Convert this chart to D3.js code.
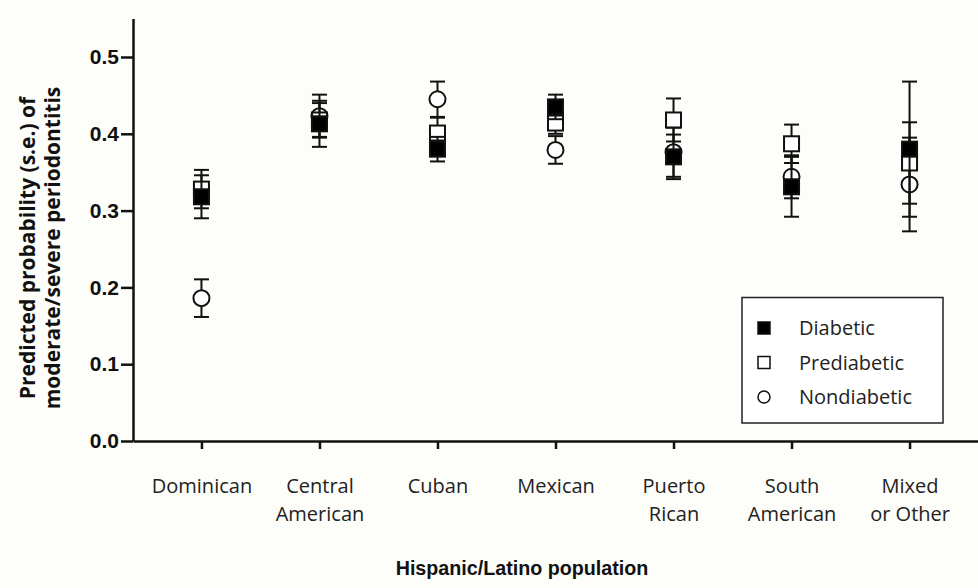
<!DOCTYPE html>
<html>
<head>
<meta charset="utf-8">
<script src="https://cdn.jsdelivr.net/npm/d3@7"></script>
<style>
  html, body { margin: 0; padding: 0; background: #fdfdf9; }
  svg { display: block; }
</style>
</head>
<body>
<svg id="chart" width="978" height="588"></svg>
<script>
// Hispanic/Latino background groups (line breaks split the axis labels)
const categories = ["Dominican", "Central\nAmerican", "Cuban", "Mexican", "Puerto\nRican", "South\nAmerican", "Mixed\nor Other"];

// Predicted probability of moderate/severe periodontitis and its standard error
const diabetic      = [0.318, 0.413, 0.380, 0.435, 0.370, 0.331, 0.380];
const diabeticSE    = [0.028, 0.030, 0.016, 0.016, 0.029, 0.039, 0.088];
const prediabetic   = [0.328, 0.418, 0.401, 0.414, 0.418, 0.387, 0.362];
const prediabeticSE = [0.025, 0.022, 0.020, 0.014, 0.028, 0.025, 0.053];
const nondiabetic   = [0.186, 0.423, 0.445, 0.379, 0.376, 0.344, 0.334];
const nondiabeticSE = [0.0245, 0.028, 0.023, 0.018, 0.032, 0.028, 0.061];

const yTicks = [0, 0.1, 0.2, 0.3, 0.4, 0.5];
const legendLabels = ["Diabetic", "Prediabetic", "Nondiabetic"];

const svg = d3.select("#chart");
const plotLeft = 133, plotRight = 978, plotBottom = 441, plotTop = 18.6;

const x = d3.scalePoint().domain(categories).range([plotLeft, plotRight]).padding(0.58);
const y = d3.scaleLinear().domain([0, 0.55]).range([plotBottom, plotTop]);

// Y axis
const yAxis = svg.append("g")
  .attr("transform", `translate(${plotLeft},0)`)
  .call(d3.axisLeft(y).tickValues(yTicks).tickFormat(d3.format(".1f")).tickSize(12).tickSizeOuter(0).tickPadding(2));
yAxis.select(".domain").attr("stroke", "#111").attr("stroke-width", 2.5);
yAxis.selectAll(".tick line").attr("stroke", "#111").attr("stroke-width", 2.5);
yAxis.selectAll(".tick text")
  .attr("fill", "#111")
  .style("font-family", "'Liberation Sans', Arial, sans-serif")
  .style("font-weight", "bold")
  .style("font-size", "21px");

// X axis
const xAxis = svg.append("g")
  .attr("transform", `translate(0,${plotBottom})`)
  .call(d3.axisBottom(x).tickSize(8).tickSizeOuter(0).tickFormat(""));
xAxis.select(".domain").attr("stroke", "#111").attr("stroke-width", 2.5);
xAxis.selectAll(".tick line").attr("stroke", "#111").attr("stroke-width", 2.5);

// Two-line category labels
const labelFont = "'Open Sans', 'Noto Sans', sans-serif";
xAxis.selectAll(".tick").each(function(d) {
  const lines = d.split("\n");
  const t = d3.select(this).append("text")
    .attr("fill", "#222")
    .attr("text-anchor", "middle")
    .style("font-family", labelFont)
    .style("font-size", "20px");
  lines.forEach((ln, i) => {
    t.append("tspan").attr("x", 0).attr("y", 52 + i * 28).text(ln);
  });
});

// Axis titles
svg.append("text")
  .attr("x", 522).attr("y", 575)
  .attr("text-anchor", "middle")
  .attr("fill", "#111")
  .style("font-family", "'Liberation Sans', Arial, sans-serif")
  .style("font-weight", "bold")
  .style("font-size", "19.7px")
  .text("Hispanic/Latino population");

const yTitle = svg.append("text")
  .attr("transform", "translate(0,248) rotate(-90)")
  .attr("text-anchor", "middle")
  .attr("fill", "#111")
  .style("font-family", labelFont)
  .style("font-weight", "bold")
  .style("font-size", "21px");
yTitle.append("tspan").attr("x", 0).attr("y", 35).text("Predicted  probability (s.e.) of");
yTitle.append("tspan").attr("x", 0).attr("y", 60).text("moderate/severe periodontitis");

// Series, drawn back to front
const series = [
  { name: "Nondiabetic", values: nondiabetic, se: nondiabeticSE, shape: "circle", fill: "#fff" },
  { name: "Prediabetic", values: prediabetic, se: prediabeticSE, shape: "square", fill: "#fff" },
  { name: "Diabetic",    values: diabetic,    se: diabeticSE,    shape: "square", fill: "#000" }
];

const capW = 15, sq = 15;

function drawMarker(g, shape, fill, cx, cy, size) {
  if (shape === "circle") {
    g.append("circle").attr("cx", cx).attr("cy", cy).attr("r", size / 2)
      .attr("fill", fill).attr("stroke", "#111").attr("stroke-width", 2);
  } else {
    g.append("rect").attr("x", cx - size / 2).attr("y", cy - size / 2)
      .attr("width", size).attr("height", size)
      .attr("fill", fill).attr("stroke", "#111").attr("stroke-width", 2);
  }
}

series.forEach(s => {
  const g = svg.append("g");
  categories.forEach((c, i) => {
    const cx = x(c);
    const v = s.values[i], e = s.se[i];
    const y1 = y(v + e), y2 = y(v - e);
    g.append("line").attr("x1", cx).attr("x2", cx).attr("y1", y1).attr("y2", y2)
      .attr("stroke", "#111").attr("stroke-width", 2);
    [y1, y2].forEach(yy => {
      g.append("line").attr("x1", cx - capW / 2).attr("x2", cx + capW / 2)
        .attr("y1", yy).attr("y2", yy)
        .attr("stroke", "#111").attr("stroke-width", 2);
    });
    drawMarker(g, s.shape, s.fill, cx, y(v), s.shape === "circle" ? 16 : sq);
  });
});

// Legend
const lg = svg.append("g");
lg.append("rect").attr("x", 742).attr("y", 297.5).attr("width", 201).attr("height", 125.5)
  .attr("fill", "#fff").attr("stroke", "#222").attr("stroke-width", 1.5);
const legendShapes = { Diabetic: ["square", "#000"], Prediabetic: ["square", "#fff"], Nondiabetic: ["circle", "#fff"] };
legendLabels.forEach((name, i) => {
  const cy = 328 + i * 34.5;
  const [shape, fill] = legendShapes[name];
  if (shape === "circle") {
    lg.append("circle").attr("cx", 764).attr("cy", cy).attr("r", 6)
      .attr("fill", fill).attr("stroke", "#111").attr("stroke-width", 1.5);
  } else {
    lg.append("rect").attr("x", 758).attr("y", cy - 6).attr("width", 12).attr("height", 12)
      .attr("fill", fill).attr("stroke", "#111").attr("stroke-width", 1.5);
  }
  lg.append("text").attr("x", 799).attr("y", cy + 7)
    .attr("fill", "#222")
    .style("font-family", labelFont)
    .style("font-size", "20px")
    .text(name);
});
</script>
</body>
</html>
